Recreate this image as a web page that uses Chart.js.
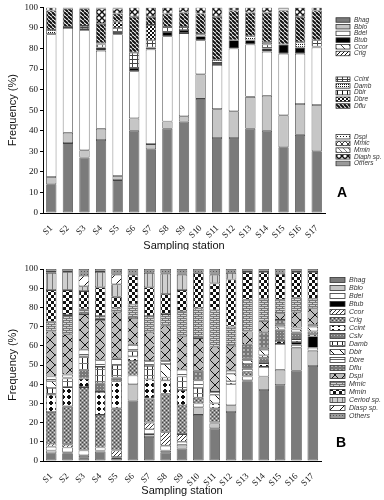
<!DOCTYPE html>
<html>
<head>
<meta charset="utf-8">
<script src="https://cdn.jsdelivr.net/npm/chart.js@4.4.1/dist/chart.umd.min.js"></script>
<style>
  body { margin: 0; background: #fff; }
  #wrap { position: relative; width: 384px; height: 500px; }
  canvas { position: absolute; left: 0; }
</style>
</head>
<body>
<div id="wrap">
  <canvas id="chartA" width="384" height="250" style="top:0;width:384px;height:250px"></canvas>
  <canvas id="chartB" width="384" height="250" style="top:250px;width:384px;height:250px"></canvas>
</div>
<script>
// stations shared by both panels
const stations = ['S1','S2','S3','S4','S5','S6','S7','S8','S9','S10','S11','S12','S13','S14','S15','S16','S17'];
const yTicks = [0,10,20,30,40,50,60,70,80,90,100];

// Panel A - species names (bottom of stack first)
const aNames = ['Bhag','Bblo','Bdel','Btub','Ccor','Crig','Ccint','Damb','Dbir','Dbre','Dflu','Dspi','Mmic','Mmin','Diaph sp.','Others'];
const aBhag   = [14,34,27,35.5,16,40,31,41,44.5,55.5,36.5,36.5,41,40,32,38,30];
const aBblo   = [3.5,5,3.5,5.5,2,6,2.5,3.5,2.5,12,14,13,15.5,17,15.5,15,22.5];
const aBdel   = [69.5,51,58.5,38,69,23,46,41.5,40.5,16.5,21.5,30.5,25.5,21.5,30,24.5,28];
const aBtub   = [0,0.5,0.5,1.5,1,1.5,1,2,1.5,2,1,4,2,1.5,4.5,3,0.5];
const aCcor   = [0,0,0,0,0,0,0,0,0,0,0,0,0,0,0,0,0];
const aCrig   = [0,0,0,0,0,0,0,0,0,0,0,0,0,0,0,0,0];
const aCcint  = [0,0,1.5,1.5,2,7.5,3.5,2.5,1.5,0,0,0,0,2,0,0,3];
const aDamb   = [2,0,0,0,0,0,0,0,0,1,1.5,0,2,1,0,2.5,0];
const aDbir   = [0,0,0,0,0,0,0,0,0,0,0,0,0,0,0,0,0];
const aDbre   = [0,0,0,0.5,3,0,7.5,0,0,0,0,0,0,0,0,0,0];
const aDflu   = [9.5,9,8.5,9.5,4,17.5,4,6.5,7,10,21,14.5,11.5,14.5,16.5,12.5,14.5];
const aDspi   = [0,0,0,0,0,0,0,0,0,0,0,0,0,0,0,0,0];
const aMmic   = [0,0,0,0,0,0,0,0,0,0,0,0,0,0,0,0,0];
const aMmin   = [0,0,0,0,0,0,0,0,0,0,0,0,0,0,0,0,0];
const aDiaph  = [1.5,0,0,7.5,2.5,4.5,4.5,3,2.5,3,4.5,1.5,2.5,2.5,0,4.5,1.5];
const aOthers = [0,0.5,0.5,0.5,0.5,0,0,0,0,0,0,0,0,0,1.5,0,0];
const aValues = [aBhag,aBblo,aBdel,aBtub,aCcor,aCrig,aCcint,aDamb,aDbir,aDbre,aDflu,aDspi,aMmic,aMmin,aDiaph,aOthers];

// Panel B
const bNames = ['Bhag','Bblo','Bdel','Btub','Ccor','Crig','Ccint','Cslv','Damb','Dbir','Dbre','Dflu','Dspi','Mmic','Mmin','Ceriod sp.','Diasp sp.','Others'];
const bBhag   = [4,4,2,5,1.5,31.5,12.5,4.5,6.5,24,17,25.5,41.5,37,39.5,47,49.5];
const bBblo   = [1.5,0.5,1,0.5,0.5,8.5,1.5,1,2,4,2.5,3.5,0.5,7,8,12,8];
const bBdel   = [2,2.5,2.5,1.5,0,4.5,2.5,2.5,1.5,2,0.5,11,2,5,13.5,1.5,1.5];
const bBtub   = [0,0,0,0,0,0,0,0,0,0,0,0,0,0,0,1.5,6];
const bCcor   = [1.5,1.5,0,0,3.5,0,3.5,7,4,0,0,0,0,0,0,0,0];
const bCrig   = [16.5,20,33,17,22,7.5,12.5,20,15,3,7.5,0,2.5,0,0,0,0];
const bCcint  = [9,10,4.5,12,14,2.5,10,7,8,0,2.5,1.5,1.5,2,1.5,1.5,1];
const bCslv   = [0,0,4.5,4.5,2,0,0,0,0,0,0,0,2.5,2.5,6,3.5,1.5];
const bDamb   = [3.5,4.5,7,8.5,6.5,3,7,1.5,7,5,0,0,0,1.5,0,0,0];
const bDbir   = [3.5,0.5,0,0,0,0,0,7,0,0,4.5,4,2,3,1.5,1.5,2.5];
const bDbre   = [2.5,1.5,3.5,3.5,3.5,3,2.5,1.5,3.5,4,1.5,1.5,1,1,1,1,1];
const bDflu   = [0,0,0,0,0,0,0,0,0,5,0,0,7,8,2.5,0,0];
const bDspi   = [23.5,21,18.5,21,24,14,15,18.5,17.5,17,23.5,13,7,6,3.5,8,8.5];
const bMmic   = [5,10,2.5,2,2,7,8.5,6,13,15.5,19,10,16.5,11.5,7,7.5,5];
const bMmin   = [16.5,13,9.5,15,6,15.5,15,10.5,11,18.5,14,24.5,14.5,14,13.5,13.5,14];
const bCeriod = [9,9.5,2.5,8,6.5,0,7.5,10.5,8,0,4.5,3.5,0,0,0,0,0];
const bDiasp  = [0.5,0,5.5,0,5,0,0,0,0,0,0,0,0,0,0,0,0];
const bOthers = [1.5,1.5,3.5,1.5,3,3,2,2.5,3,2,3,2,1.5,1.5,2.5,1.5,1.5];
const bValues = [bBhag,bBblo,bBdel,bBtub,bCcor,bCrig,bCcint,bCslv,bDamb,bDbir,bDbre,bDflu,bDspi,bMmic,bMmin,bCeriod,bDiasp,bOthers];

// --- fill patterns ---
function tile(w, h, bg, fn) {
    const c = document.createElement('canvas');
    c.width = w; c.height = h;
    const g = c.getContext('2d');
    g.fillStyle = bg; g.fillRect(0, 0, w, h);
    g.strokeStyle = '#111'; g.fillStyle = '#111'; g.lineWidth = 1;
    if (fn) fn(g, w, h);
    return g.createPattern(c, 'repeat');
}
function ln(g, x1, y1, x2, y2) { g.beginPath(); g.moveTo(x1, y1); g.lineTo(x2, y2); g.stroke(); }
function back(g, w) { [-w, 0, w].forEach(k => ln(g, k, 0, k + w, w)); }   // "\"
function fwd(g, w) { [-w, 0, w].forEach(k => ln(g, k, w, k + w, 0)); }    // "/"
function cross(g, w) { back(g, w); fwd(g, w); }

const aFills = [
    '#7b7b7b', '#c6c6c6', '#ffffff', '#000000',
    tile(8, 8, '#fff', (g, w) => { g.lineWidth = 0.8; back(g, w); }),
    tile(4, 4, '#fff', (g, w) => fwd(g, w)),
    tile(5, 4, '#fff', g => { g.fillStyle = '#444'; g.fillRect(2, 0, 1, 4); g.fillRect(0, 3, 5, 1); }),
    tile(2, 2, '#fff', g => g.fillRect(0, 0, 1, 1)),
    tile(5, 5, '#fff', g => g.fillRect(2, 0, 1, 5)),
    tile(4, 4, '#fff', g => { g.fillRect(0, 0, 2, 2); g.fillRect(2, 2, 2, 2); }),
    tile(4, 4, '#fff', (g, w) => { g.lineWidth = 2; back(g, w); }),
    tile(3, 3, '#fff', g => g.fillRect(1, 1, 1, 1)),
    tile(6, 6, '#fff', (g, w) => { g.lineWidth = 0.8; cross(g, w); }),
    tile(5, 5, '#fff', (g, w) => { g.strokeStyle = '#666'; g.lineWidth = 0.8; back(g, w); }),
    tile(6, 6, '#fff', (g, w) => { g.lineWidth = 1.4; cross(g, w); }),
    tile(4, 4, '#999', g => { g.fillStyle = '#eee'; g.fillRect(0, 1, 4, 1); })
];

const bFills = [
    '#7b7b7b', '#c6c6c6', '#ffffff', '#000000',
    tile(4, 4, '#fff', (g, w) => { g.strokeStyle = '#333'; fwd(g, w); }),
    tile(4, 4, '#8c8c8c', g => { g.fillStyle = '#ddd'; g.fillRect(0, 0, 1, 1); g.fillRect(2, 2, 1, 1); g.fillStyle = '#444'; g.fillRect(2, 0, 1, 1); g.fillRect(0, 2, 1, 1); }),
    tile(6, 6, '#fff', g => { g.fillRect(2, 1, 2, 4); g.fillRect(1, 2, 4, 2); }),
    tile(3, 3, '#777', g => { g.fillStyle = '#bbb'; g.fillRect(1, 1, 1, 1); }),
    tile(5, 6, '#fff', g => { g.fillStyle = '#222'; g.fillRect(2, 0, 1, 6); g.fillStyle = '#777'; g.fillRect(0, 5, 5, 1); }),
    tile(10, 10, '#fff', (g, w) => back(g, w)),
    tile(4, 5, '#fff', g => { g.fillStyle = '#666'; g.fillRect(0, 4, 4, 1); }),
    tile(4, 4, '#b0b0b0', g => { g.strokeStyle = '#555'; g.beginPath(); g.arc(2, 2, 1.3, 0, Math.PI * 2); g.stroke(); }),
    tile(10, 10, '#bdbdbd', (g, w) => cross(g, w)),
    tile(6, 4, '#d6d6d6', g => { g.fillStyle = '#777'; g.fillRect(0, 0, 6, 1); g.fillRect(0, 2, 6, 1); g.fillRect(0, 0, 1, 2); g.fillRect(3, 2, 1, 2); }),
    tile(6, 6, '#fff', g => { g.fillRect(0, 0, 3, 3); g.fillRect(3, 3, 3, 3); }),
    tile(5, 5, '#cfcfcf', g => { g.fillStyle = '#777'; g.fillRect(2, 0, 1, 5); }),
    tile(10, 10, '#fff', (g, w) => fwd(g, w)),
    tile(3, 3, '#9a9a9a', g => { g.fillStyle = '#555'; g.fillRect(0, 0, 1, 1); })
];

// legend drawn at the right of each panel, plus the panel letter
const sideLegend = {
    id: 'sideLegend',
    afterDraw(chart, args, o) {
        const ctx = chart.ctx;
        ctx.save();
        let y = o.y;
        chart.data.datasets.forEach((ds, i) => {
            if (o.gaps[i]) y += o.gaps[i];
            ctx.fillStyle = ds.backgroundColor;
            ctx.fillRect(o.x, y - o.h / 2, o.w, o.h);
            ctx.strokeStyle = '#333';
            ctx.lineWidth = 0.8;
            ctx.strokeRect(o.x, y - o.h / 2, o.w, o.h);
            ctx.fillStyle = '#333';
            ctx.font = 'italic ' + o.fs + 'px "Liberation Sans"';
            ctx.textBaseline = 'middle';
            ctx.fillText(ds.label, o.x + o.w + 4, y);
            y += o.step;
        });
        ctx.font = 'bold 14px "Liberation Sans"';
        ctx.fillStyle = '#000';
        ctx.fillText(o.letter, o.lx, o.ly);
        ctx.restore();
    }
};

function buildDatasets(names, values, fills) {
    return names.map((n, i) => ({
        label: n,
        data: values[i],
        backgroundColor: fills[i],
        borderColor: '#444',
        borderWidth: 0.8,
        borderSkipped: false
    }));
}

function scales(xHeight, titleGap) {
    return {
        x: {
            stacked: true,
            grid: { display: false },
            border: { display: true, color: '#000', width: 1 },
            ticks: { autoSkip: false, minRotation: 45, maxRotation: 45, padding: 2, color: '#111', font: { family: 'Liberation Serif', size: 9 } },
            title: { display: true, text: 'Sampling station', color: '#111', font: { family: 'Liberation Sans', size: 11, lineHeight: 0.8 }, padding: { top: 0, bottom: titleGap } },
            afterFit: s => { s.height = xHeight; }
        },
        y: {
            stacked: true,
            min: 0, max: 100,
            afterBuildTicks: s => { s.ticks = yTicks.map(v => ({ value: v })); },
            grid: { drawOnChartArea: false, tickLength: 3, color: '#000' },
            border: { display: true, color: '#000', width: 1 },
            ticks: { padding: 2, color: '#111', font: { family: 'Liberation Serif', size: 9 } },
            title: { display: true, text: 'Frequency (%)', color: '#111', font: { family: 'Liberation Sans', size: 11 }, padding: { top: 6, bottom: 2 } },
            afterFit: s => { s.width = 43; }
        }
    };
}

new Chart(document.getElementById('chartA').getContext('2d'), {
    type: 'bar',
    data: { labels: stations, datasets: buildDatasets(aNames, aValues, aFills) },
    options: {
        responsive: false,
        animation: false,
        devicePixelRatio: 1,
        layout: { padding: { left: 0, right: 59, top: 7, bottom: 0 } },
        datasets: { bar: { barPercentage: 0.62, categoryPercentage: 1 } },
        plugins: {
            legend: { display: false },
            tooltip: { enabled: false },
            sideLegend: { x: 336, y: 20, step: 6.7, gaps: { 6: 19, 11: 24 }, w: 14, h: 4.5, fs: 6.5, letter: 'A', lx: 337, ly: 193 }
        },
        scales: scales(37, 0)
    },
    plugins: [sideLegend]
});

new Chart(document.getElementById('chartB').getContext('2d'), {
    type: 'bar',
    data: { labels: stations, datasets: buildDatasets(bNames, bValues, bFills) },
    options: {
        responsive: false,
        animation: false,
        devicePixelRatio: 1,
        layout: { padding: { left: 0, right: 63, top: 19, bottom: 0 } },
        datasets: { bar: { barPercentage: 0.65, categoryPercentage: 1 } },
        plugins: {
            legend: { display: false },
            tooltip: { enabled: false },
            sideLegend: { x: 330, y: 30, step: 8, gaps: {}, w: 15, h: 5, fs: 7, letter: 'B', lx: 336, ly: 193 }
        },
        scales: scales(39, 5)
    },
    plugins: [sideLegend]
});
</script>
</body>
</html>
